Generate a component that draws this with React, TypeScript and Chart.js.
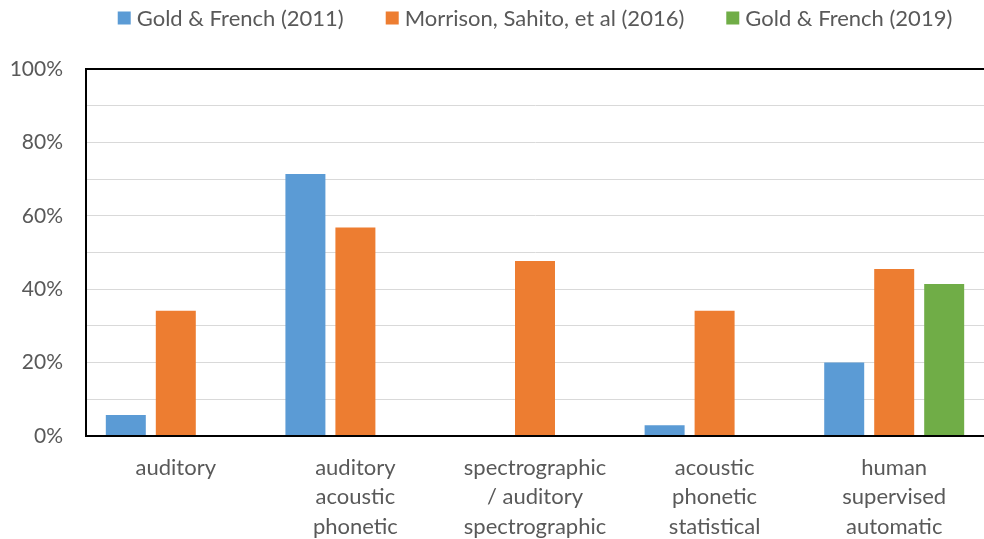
import React, { useEffect, useRef } from "react";
import { Chart, registerables } from "chart.js";

Chart.register(...registerables);

const categories: string[][] = [
  ["auditory"],
  ["auditory", "acoustic", "phonetic"],
  ["spectrographic", "/ auditory", "spectrographic"],
  ["acoustic", "phonetic", "statistical"],
  ["human", "supervised", "automatic"],
];

const seriesLabels = ["Gold & French (2011)", "Morrison, Sahito, et al (2016)", "Gold & French (2019)"];
const gold2011 = [5.7, 71.4, 0, 2.9, 20.0];
const morrison2016 = [34.1, 56.8, 47.7, 34.1, 45.5];
const gold2019 = [null, null, null, null, 41.4];
const seriesColors = ["#5B9BD5", "#ED7D31", "#70AD47"];

const yMin = 0;
const yMax = 100;
const yStep = 10;
const yLabelStep = 20;

const FONT = "Lato, 'Noto Sans', sans-serif";
const FONT_SIZE = 22;
const Y_FONT_SIZE = 21;
const TEXT_COLOR = "#595959";

const legendPlugin = {
  id: "topLegend",
  afterDraw(chart: any) {
    const { ctx, chartArea } = chart;
    ctx.save();
    ctx.font = `${FONT_SIZE}px ${FONT}`;
    const box = 13;
    const gapBoxText = 6;
    const gapItems = 42;
    const items = chart.data.datasets.map((ds: any) => ({
      text: ds.label as string,
      color: ds.backgroundColor as string,
      w: ctx.measureText(ds.label).width,
    }));
    const total =
      items.reduce((s: number, it: any) => s + box + gapBoxText + it.w, 0) +
      gapItems * (items.length - 1);
    let x = (chartArea.left + chartArea.right) / 2 - total / 2;
    const y = 18;
    ctx.textBaseline = "middle";
    ctx.textAlign = "left";
    for (const it of items) {
      ctx.fillStyle = it.color;
      ctx.fillRect(x, y - box / 2, box, box);
      ctx.fillStyle = TEXT_COLOR;
      ctx.fillText(it.text, x + box + gapBoxText, y + 1);
      x += box + gapBoxText + it.w + gapItems;
    }
    ctx.restore();
  },
};

export default function App() {
  const ref = useRef<HTMLCanvasElement | null>(null);

  useEffect(() => {
    if (!ref.current) return;
    const data = [gold2011, morrison2016, gold2019];
    const chart = new Chart(ref.current, {
      type: "bar",
      data: {
        labels: categories,
        datasets: seriesLabels.map((label, i) => ({
          label,
          data: data[i] as any,
          backgroundColor: seriesColors[i],
          borderWidth: 0,
          barPercentage: 0.8,
          categoryPercentage: 0.835,
        })),
      },
      options: {
        responsive: false,
        animation: false,
        layout: { padding: { top: 69, left: 0, right: 0, bottom: 0 } },
        plugins: {
          legend: { display: false },
          tooltip: { enabled: false },
        },
        scales: {
          x: {
            grid: { drawOnChartArea: false, drawTicks: false },
            border: { display: true, color: "#000000", width: 2 },
            ticks: {
              color: TEXT_COLOR,
              font: { family: FONT, size: FONT_SIZE, lineHeight: 1.34 },
              padding: 17,
              maxRotation: 0,
              autoSkip: false,
            },
            afterFit(scale: any) {
              scale.height = 103;
            },
          },
          y: {
            min: yMin,
            max: yMax,
            ticks: {
              stepSize: yStep,
              color: TEXT_COLOR,
              font: { family: FONT, size: Y_FONT_SIZE },
              padding: 23,
              callback: (v: any) => (Number(v) % yLabelStep === 0 ? `${v}%` : ""),
            },
            grid: {
              drawTicks: false,
              color: (c: any) =>
                c.tick && (c.tick.value === yMax || c.tick.value === yMin) ? "#000000" : "#D9D9D9",
              lineWidth: (c: any) =>
                c.tick && (c.tick.value === yMax || c.tick.value === yMin) ? 2 : 1,
            },
            border: { display: true, color: "#000000", width: 2 },
            afterFit(scale: any) {
              scale.width = 86;
            },
          },
        },
      },
      plugins: [legendPlugin],
    });
    return () => chart.destroy();
  }, []);

  return (
    <div style={{ position: "absolute", left: 0, top: 0, width: 984, height: 539, background: "#fff" }}>
      <canvas ref={ref} width={984} height={539} />
    </div>
  );
}
